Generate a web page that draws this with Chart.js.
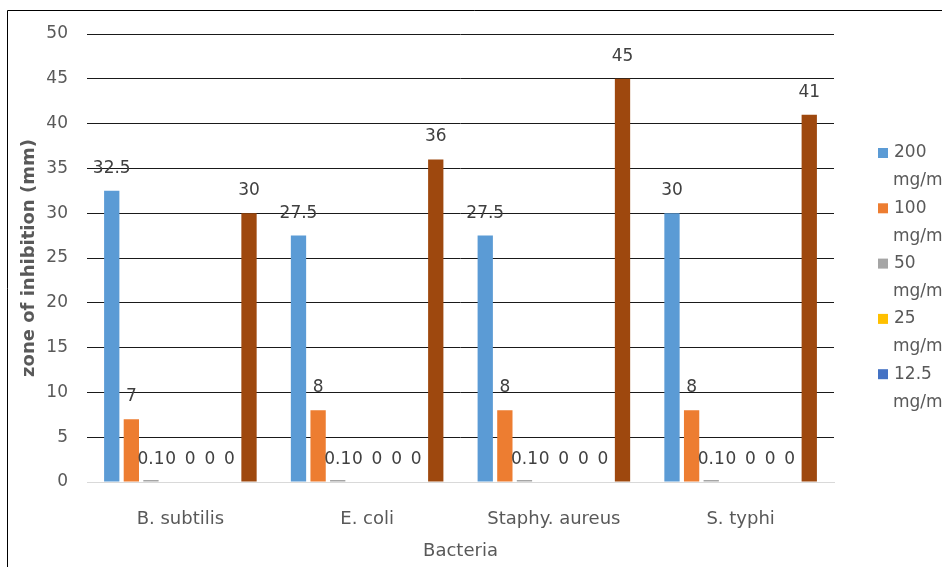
<!DOCTYPE html>
<html>
<head>
<meta charset="utf-8">
<script src="https://cdn.jsdelivr.net/npm/chart.js@4/dist/chart.umd.min.js"></script>
<style>
  html, body { margin: 0; padding: 0; background: #fff; }
  #wrap { width: 942px; height: 567px; position: relative; }
</style>
</head>
<body>
<div id="wrap"><canvas id="c" width="942" height="567"></canvas></div>
<script>
const categories = ['B. subtilis', 'E. coli', 'Staphy. aureus', 'S. typhi'];
const seriesNames = ['200 mg/ml', '100 mg/ml', '50 mg/ml', '25 mg/ml', '12.5 mg/ml', '6.25 mg/ml', '3.125 mg/ml', 'Control'];
const seriesColors = ['#5B9BD5', '#ED7D31', '#A5A5A5', '#FFC000', '#4472C4', '#70AD47', '#264478', '#9E480E'];
const v200 = [32.5, 27.5, 27.5, 30];
const v100 = [7, 8, 8, 8];
const v50 = [0.1, 0.1, 0.1, 0.1];
const v25 = [0, 0, 0, 0];
const v12_5 = [0, 0, 0, 0];
const v6_25 = [0, 0, 0, 0];
const v3_125 = [0, 0, 0, 0];
const vControl = [30, 36, 45, 41];
const yTicks = [0, 5, 10, 15, 20, 25, 30, 35, 40, 45, 50];
const legendShown = 5;

const seriesValues = [v200, v100, v50, v25, v12_5, v6_25, v3_125, vControl];
const FONT = "'DejaVu Sans', sans-serif";

const frame = {
  id: 'frame',
  beforeDraw(chart) {
    const ctx = chart.ctx;
    ctx.save();
    ctx.fillStyle = '#fff';
    ctx.fillRect(0, 0, chart.width, chart.height);
    ctx.strokeStyle = '#000';
    ctx.lineWidth = 1;
    ctx.beginPath();
    ctx.moveTo(7.5, chart.height);
    ctx.lineTo(7.5, 10.5);
    ctx.lineTo(chart.width, 10.5);
    ctx.stroke();
    ctx.restore();
  }
};

const valueLabels = {
  id: 'valueLabels',
  afterDatasetsDraw(chart) {
    const ctx = chart.ctx;
    ctx.save();
    ctx.font = '17px ' + FONT;
    ctx.fillStyle = '#404040';
    ctx.textAlign = 'center';
    ctx.textBaseline = 'alphabetic';
    chart.data.datasets.forEach((ds, i) => {
      const meta = chart.getDatasetMeta(i);
      const base = chart.scales.y.getPixelForValue(0);
      meta.data.forEach((bar, j) => {
        const top = Math.min(bar.y, base);
        const y = ds.data[j] < 1 ? base : top;
        ctx.fillText(String(ds.data[j]), bar.x, y - 18);
      });
    });
    ctx.restore();
  }
};

const sideLegend = {
  id: 'sideLegend',
  afterDraw(chart) {
    const ctx = chart.ctx;
    const x0 = chart.chartArea.right + 44;
    const yStart = 153;
    const step = 55.3;
    ctx.save();
    ctx.font = '17px ' + FONT;
    ctx.fillStyle = '#595959';
    ctx.textBaseline = 'middle';
    ctx.textAlign = 'left';
    for (let i = 0; i < legendShown; i++) {
      const ds = chart.data.datasets[i];
      const parts = ds.label.split(' ');
      const y = yStart + i * step;
      ctx.fillStyle = ds.backgroundColor;
      ctx.fillRect(x0, y - 5, 10, 10);
      ctx.fillStyle = '#595959';
      ctx.fillText(parts[0], x0 + 16, y);
      ctx.fillText(parts.slice(1).join(' '), x0 + 15, y + 28);
    }
    ctx.restore();
  }
};

new Chart(document.getElementById('c'), {
  type: 'bar',
  data: {
    labels: categories,
    datasets: seriesValues.map((vals, i) => ({
      label: seriesNames[i],
      data: vals,
      backgroundColor: seriesColors[i],
      borderWidth: 0,
      minBarLength: (vals.some(v => v > 0 && v < 1)) ? 2 : 0,
      categoryPercentage: 0.84,
      barPercentage: 0.78
    }))
  },
  options: {
    responsive: false,
    animation: false,
    devicePixelRatio: 1,
    layout: { padding: { left: 8, top: 34, right: 108, bottom: 0 } },
    plugins: {
      legend: { display: false },
      tooltip: { enabled: false }
    },
    scales: {
      x: {
        grid: { display: false },
        border: { display: true, color: '#d9d9d9', width: 1 },
        ticks: { color: '#595959', font: { family: FONT, size: 18 }, padding: 19, maxRotation: 0 },
        title: { display: true, text: 'Bacteria', color: '#595959', font: { family: FONT, size: 18 }, padding: { top: 0, bottom: 5 } },
        afterFit(s) { s.height = 85; }
      },
      y: {
        min: 0,
        max: 50,
        afterBuildTicks(s) { s.ticks = yTicks.map(v => ({ value: v })); },
        grid: {
          color: c => (c.tick && c.tick.value === 0) ? '#d9d9d9' : '#1a1a1a',
          lineWidth: 1,
          drawTicks: false
        },
        border: { display: false },
        ticks: { color: '#595959', font: { family: FONT, size: 17 }, padding: 19 },
        title: { display: true, text: 'zone of inhibition (mm)', color: '#595959', font: { family: FONT, size: 18, weight: 'bold' }, padding: { top: 11, bottom: 0 } },
        afterFit(s) { s.width = 79; }
      }
    }
  },
  plugins: [frame, valueLabels, sideLegend]
});
</script>
</body>
</html>
